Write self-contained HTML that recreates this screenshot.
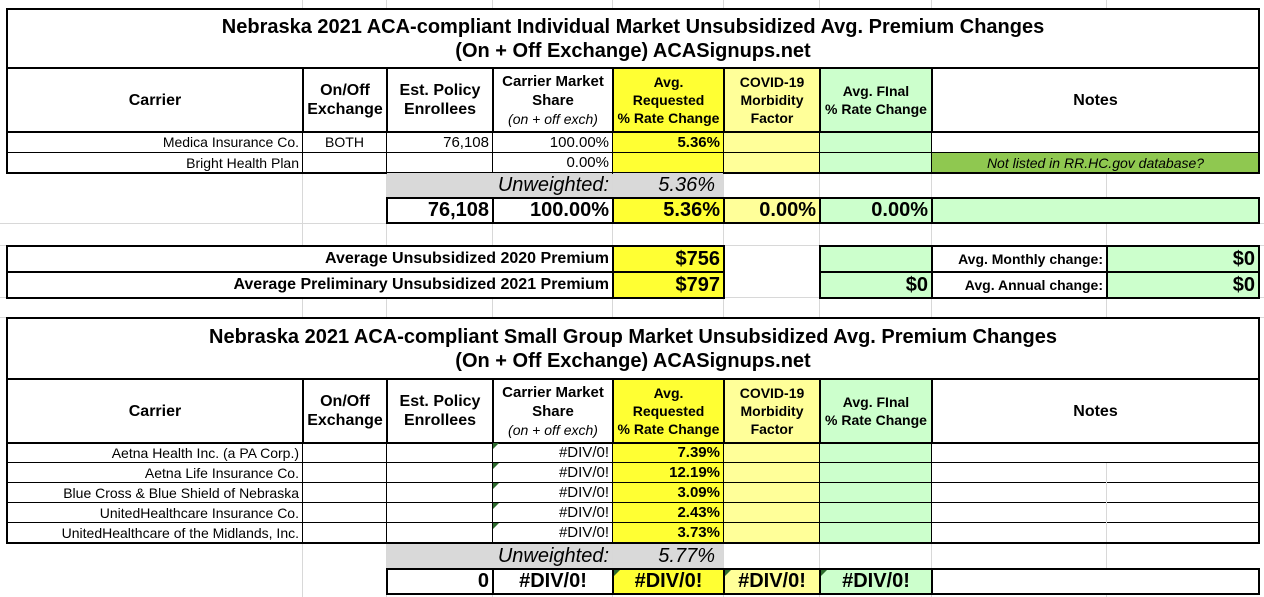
<!DOCTYPE html>
<html><head><meta charset="utf-8">
<style>
body{margin:0;width:1264px;height:597px;background:#fff;position:relative;overflow:hidden;font-family:"Liberation Sans",Arial,sans-serif;color:#000}
.g{position:absolute;background:#d8d8d8}
.c{position:absolute;box-sizing:border-box;border:1px solid #000;display:flex;align-items:center;justify-content:flex-end;padding-right:3px;font-size:14px;white-space:nowrap;overflow:hidden;background:#fff}
.h{border-width:2px;justify-content:center;text-align:center;font-weight:bold;font-size:16px;line-height:19px;padding:0}
.t{border-width:2px;justify-content:center;text-align:center;font-weight:bold;font-size:20px;line-height:24px;padding:0;background:#fff}
.tb{border-width:2px;font-weight:bold;font-size:20px}
.o{position:absolute;box-sizing:border-box;border:2px solid #000;pointer-events:none}
.y{background:#ffff33}.ly{background:#ffff99}.gr{background:#ccffcc}.gy{background:#d9d9d9;border:none}
.ctr{justify-content:center;padding:0}
.tri{position:absolute;width:0;height:0;border-top:6px solid #2d6a2d;border-right:6px solid transparent}
.s{font-size:14px;line-height:18px}
i{font-weight:normal}
</style></head><body>
<div class="g" style="left:302px;top:0;width:1px;height:597px"></div>
<div class="g" style="left:386px;top:0;width:1px;height:597px"></div>
<div class="g" style="left:492px;top:0;width:1px;height:597px"></div>
<div class="g" style="left:612px;top:0;width:1px;height:597px"></div>
<div class="g" style="left:723px;top:0;width:1px;height:597px"></div>
<div class="g" style="left:819px;top:0;width:1px;height:597px"></div>
<div class="g" style="left:931px;top:0;width:1px;height:597px"></div>
<div class="g" style="left:1106px;top:0;width:1px;height:597px"></div>
<div class="g" style="left:0;top:223px;width:1264px;height:1px"></div>
<div class="g" style="left:0;top:245px;width:1264px;height:1px"></div>
<div class="g" style="left:0;top:297px;width:1264px;height:1px"></div>
<div class="g" style="left:0;top:317px;width:1264px;height:1px"></div>

<!-- TABLE 1 -->
<div class="c t" style="left:6px;top:8px;width:1254px;height:61px">Nebraska 2021 ACA-compliant Individual Market Unsubsidized Avg. Premium Changes<br>(On + Off Exchange) ACASignups.net</div>
<div class="c h" style="left:6px;top:67px;width:298px;height:66px">Carrier</div>
<div class="c h" style="left:302px;top:67px;width:86px;height:66px"><div>On/Off<br>Exchange</div></div>
<div class="c h" style="left:386px;top:67px;width:108px;height:66px"><div>Est. Policy<br>Enrollees</div></div>
<div class="c h" style="left:492px;top:67px;width:122px;height:66px;font-size:15px"><div>Carrier Market<br>Share<br><i style="font-size:14px;font-style:italic">(on + off exch)</i></div></div>
<div class="c h y s" style="left:612px;top:67px;width:113px;height:66px"><div>Avg.<br>Requested<br>% Rate Change</div></div>
<div class="c h ly s" style="left:723px;top:67px;width:98px;height:66px"><div>COVID-19<br>Morbidity<br>Factor</div></div>
<div class="c h gr s" style="left:819px;top:67px;width:114px;height:66px"><div>Avg. FInal<br>% Rate Change</div></div>
<div class="c h" style="left:931px;top:67px;width:329px;height:66px">Notes</div>

<div class="c" style="left:6px;top:131px;width:297px;height:22px">Medica Insurance Co.</div>
<div class="c ctr" style="left:302px;top:131px;width:85px;height:22px">BOTH</div>
<div class="c" style="left:386px;top:131px;width:107px;height:22px;font-size:15px">76,108</div>
<div class="c" style="left:492px;top:131px;width:121px;height:22px;font-size:15px">100.00%</div>
<div class="c y" style="left:612px;top:131px;width:112px;height:22px;font-weight:bold;font-size:15px">5.36%</div>
<div class="c ly" style="left:723px;top:131px;width:97px;height:22px"></div>
<div class="c gr" style="left:819px;top:131px;width:113px;height:22px"></div>
<div class="c" style="left:931px;top:131px;width:329px;height:22px"></div>

<div class="c" style="left:6px;top:152px;width:297px;height:21px">Bright Health Plan</div>
<div class="c" style="left:302px;top:152px;width:85px;height:21px"></div>
<div class="c" style="left:386px;top:152px;width:107px;height:21px"></div>
<div class="c" style="left:492px;top:152px;width:121px;height:21px;font-size:15px">0.00%</div>
<div class="c y" style="left:612px;top:152px;width:112px;height:21px"></div>
<div class="c ly" style="left:723px;top:152px;width:97px;height:21px"></div>
<div class="c gr" style="left:819px;top:152px;width:113px;height:21px"></div>
<div class="c ctr" style="left:931px;top:152px;width:329px;height:21px;background:#8fc850;font-style:italic">Not listed in RR.HC.gov database?</div>
<div class="o" style="left:6px;top:131px;width:1254px;height:43px"></div>

<div class="c gy" style="left:387px;top:173px;width:225px;height:24px;font-style:italic;font-size:20px">Unweighted:</div>
<div class="c gy" style="left:613px;top:173px;width:110px;height:24px;font-style:italic;font-size:20px;padding-right:8px">5.36%</div>

<div class="c tb" style="left:386px;top:197px;width:108px;height:27px">76,108</div>
<div class="c tb" style="left:492px;top:197px;width:122px;height:27px">100.00%</div>
<div class="c tb y" style="left:612px;top:197px;width:113px;height:27px">5.36%</div>
<div class="c tb ly" style="left:723px;top:197px;width:98px;height:27px">0.00%</div>
<div class="c tb gr" style="left:819px;top:197px;width:114px;height:27px">0.00%</div>
<div class="c tb gr" style="left:931px;top:197px;width:329px;height:27px"></div>

<div class="c tb" style="left:6px;top:245px;width:608px;height:28px;font-size:16px">Average Unsubsidized 2020 Premium</div>
<div class="c tb y" style="left:612px;top:245px;width:113px;height:28px">$756</div>
<div class="c tb" style="left:6px;top:271px;width:608px;height:28px;font-size:16px">Average Preliminary Unsubsidized 2021 Premium</div>
<div class="c tb y" style="left:612px;top:271px;width:113px;height:28px">$797</div>
<div class="c tb gr" style="left:819px;top:245px;width:114px;height:28px"></div>
<div class="c tb gr" style="left:819px;top:271px;width:114px;height:28px">$0</div>
<div class="c tb" style="left:931px;top:245px;width:177px;height:28px;font-size:14px">Avg. Monthly change:</div>
<div class="c tb" style="left:931px;top:271px;width:177px;height:28px;font-size:14px">Avg. Annual change:</div>
<div class="c tb gr" style="left:1106px;top:245px;width:154px;height:28px">$0</div>
<div class="c tb gr" style="left:1106px;top:271px;width:154px;height:28px">$0</div>

<!-- TABLE 2 -->
<div class="c t" style="left:6px;top:317px;width:1254px;height:63px">Nebraska 2021 ACA-compliant Small Group Market Unsubsidized Avg. Premium Changes<br>(On + Off Exchange) ACASignups.net</div>
<div class="c h" style="left:6px;top:378px;width:298px;height:66px">Carrier</div>
<div class="c h" style="left:302px;top:378px;width:86px;height:66px"><div>On/Off<br>Exchange</div></div>
<div class="c h" style="left:386px;top:378px;width:108px;height:66px"><div>Est. Policy<br>Enrollees</div></div>
<div class="c h" style="left:492px;top:378px;width:122px;height:66px;font-size:15px"><div>Carrier Market<br>Share<br><i style="font-size:14px;font-style:italic">(on + off exch)</i></div></div>
<div class="c h y s" style="left:612px;top:378px;width:113px;height:66px"><div>Avg.<br>Requested<br>% Rate Change</div></div>
<div class="c h ly s" style="left:723px;top:378px;width:98px;height:66px"><div>COVID-19<br>Morbidity<br>Factor</div></div>
<div class="c h gr s" style="left:819px;top:378px;width:114px;height:66px"><div>Avg. FInal<br>% Rate Change</div></div>
<div class="c h" style="left:931px;top:378px;width:329px;height:66px">Notes</div>

<div class="c" style="left:6px;top:442px;width:297px;height:21px">Aetna Health Inc. (a PA Corp.)</div>
<div class="c" style="left:6px;top:462px;width:297px;height:21px">Aetna Life Insurance Co.</div>
<div class="c" style="left:6px;top:482px;width:297px;height:21px">Blue Cross &amp; Blue Shield of Nebraska</div>
<div class="c" style="left:6px;top:502px;width:297px;height:21px">UnitedHealthcare Insurance Co.</div>
<div class="c" style="left:6px;top:522px;width:297px;height:21px">UnitedHealthcare of the Midlands, Inc.</div>
<div class="c" style="left:302px;top:442px;width:85px;height:21px"></div>
<div class="c" style="left:302px;top:462px;width:85px;height:21px"></div>
<div class="c" style="left:302px;top:482px;width:85px;height:21px"></div>
<div class="c" style="left:302px;top:502px;width:85px;height:21px"></div>
<div class="c" style="left:302px;top:522px;width:85px;height:21px"></div>
<div class="c" style="left:386px;top:442px;width:107px;height:21px"></div>
<div class="c" style="left:386px;top:462px;width:107px;height:21px"></div>
<div class="c" style="left:386px;top:482px;width:107px;height:21px"></div>
<div class="c" style="left:386px;top:502px;width:107px;height:21px"></div>
<div class="c" style="left:386px;top:522px;width:107px;height:21px"></div>
<div class="c" style="left:492px;top:442px;width:121px;height:21px;font-size:15px">#DIV/0!</div>
<div class="c" style="left:492px;top:462px;width:121px;height:21px;font-size:15px">#DIV/0!</div>
<div class="c" style="left:492px;top:482px;width:121px;height:21px;font-size:15px">#DIV/0!</div>
<div class="c" style="left:492px;top:502px;width:121px;height:21px;font-size:15px">#DIV/0!</div>
<div class="c" style="left:492px;top:522px;width:121px;height:21px;font-size:15px">#DIV/0!</div>
<div class="c y" style="left:612px;top:442px;width:112px;height:21px;font-weight:bold;font-size:15px">7.39%</div>
<div class="c y" style="left:612px;top:462px;width:112px;height:21px;font-weight:bold;font-size:15px">12.19%</div>
<div class="c y" style="left:612px;top:482px;width:112px;height:21px;font-weight:bold;font-size:15px">3.09%</div>
<div class="c y" style="left:612px;top:502px;width:112px;height:21px;font-weight:bold;font-size:15px">2.43%</div>
<div class="c y" style="left:612px;top:522px;width:112px;height:21px;font-weight:bold;font-size:15px">3.73%</div>
<div class="c ly" style="left:723px;top:442px;width:97px;height:21px"></div>
<div class="c ly" style="left:723px;top:462px;width:97px;height:21px"></div>
<div class="c ly" style="left:723px;top:482px;width:97px;height:21px"></div>
<div class="c ly" style="left:723px;top:502px;width:97px;height:21px"></div>
<div class="c ly" style="left:723px;top:522px;width:97px;height:21px"></div>
<div class="c gr" style="left:819px;top:442px;width:113px;height:21px"></div>
<div class="c gr" style="left:819px;top:462px;width:113px;height:21px"></div>
<div class="c gr" style="left:819px;top:482px;width:113px;height:21px"></div>
<div class="c gr" style="left:819px;top:502px;width:113px;height:21px"></div>
<div class="c gr" style="left:819px;top:522px;width:113px;height:21px"></div>
<div class="c" style="left:931px;top:442px;width:329px;height:21px"></div>
<div class="c" style="left:931px;top:462px;width:329px;height:21px"></div>
<div class="c" style="left:931px;top:482px;width:329px;height:21px"></div>
<div class="c" style="left:931px;top:502px;width:329px;height:21px"></div>
<div class="c" style="left:931px;top:522px;width:329px;height:21px"></div>
<div class="g" style="left:1106px;top:463px;width:1px;height:79px"></div>
<div class="o" style="left:6px;top:442px;width:1254px;height:102px"></div>
<div class="tri" style="left:493px;top:443px"></div>
<div class="tri" style="left:493px;top:463px"></div>
<div class="tri" style="left:493px;top:483px"></div>
<div class="tri" style="left:493px;top:503px"></div>
<div class="tri" style="left:493px;top:523px"></div>

<div class="c gy" style="left:387px;top:544px;width:225px;height:24px;font-style:italic;font-size:20px">Unweighted:</div>
<div class="c gy" style="left:613px;top:544px;width:110px;height:24px;font-style:italic;font-size:20px;padding-right:8px">5.77%</div>

<div class="c tb" style="left:386px;top:568px;width:108px;height:27px">0</div>
<div class="c tb ctr" style="left:492px;top:568px;width:122px;height:27px">#DIV/0!</div>
<div class="c tb y ctr" style="left:612px;top:568px;width:113px;height:27px">#DIV/0!</div>
<div class="c tb ly ctr" style="left:723px;top:568px;width:98px;height:27px">#DIV/0!</div>
<div class="c tb gr ctr" style="left:819px;top:568px;width:114px;height:27px">#DIV/0!</div>
<div class="c tb" style="left:931px;top:568px;width:329px;height:27px"></div>
<div class="tri" style="left:614px;top:570px"></div>
<div class="tri" style="left:725px;top:570px"></div>
<div class="tri" style="left:821px;top:570px"></div>
</body></html>
